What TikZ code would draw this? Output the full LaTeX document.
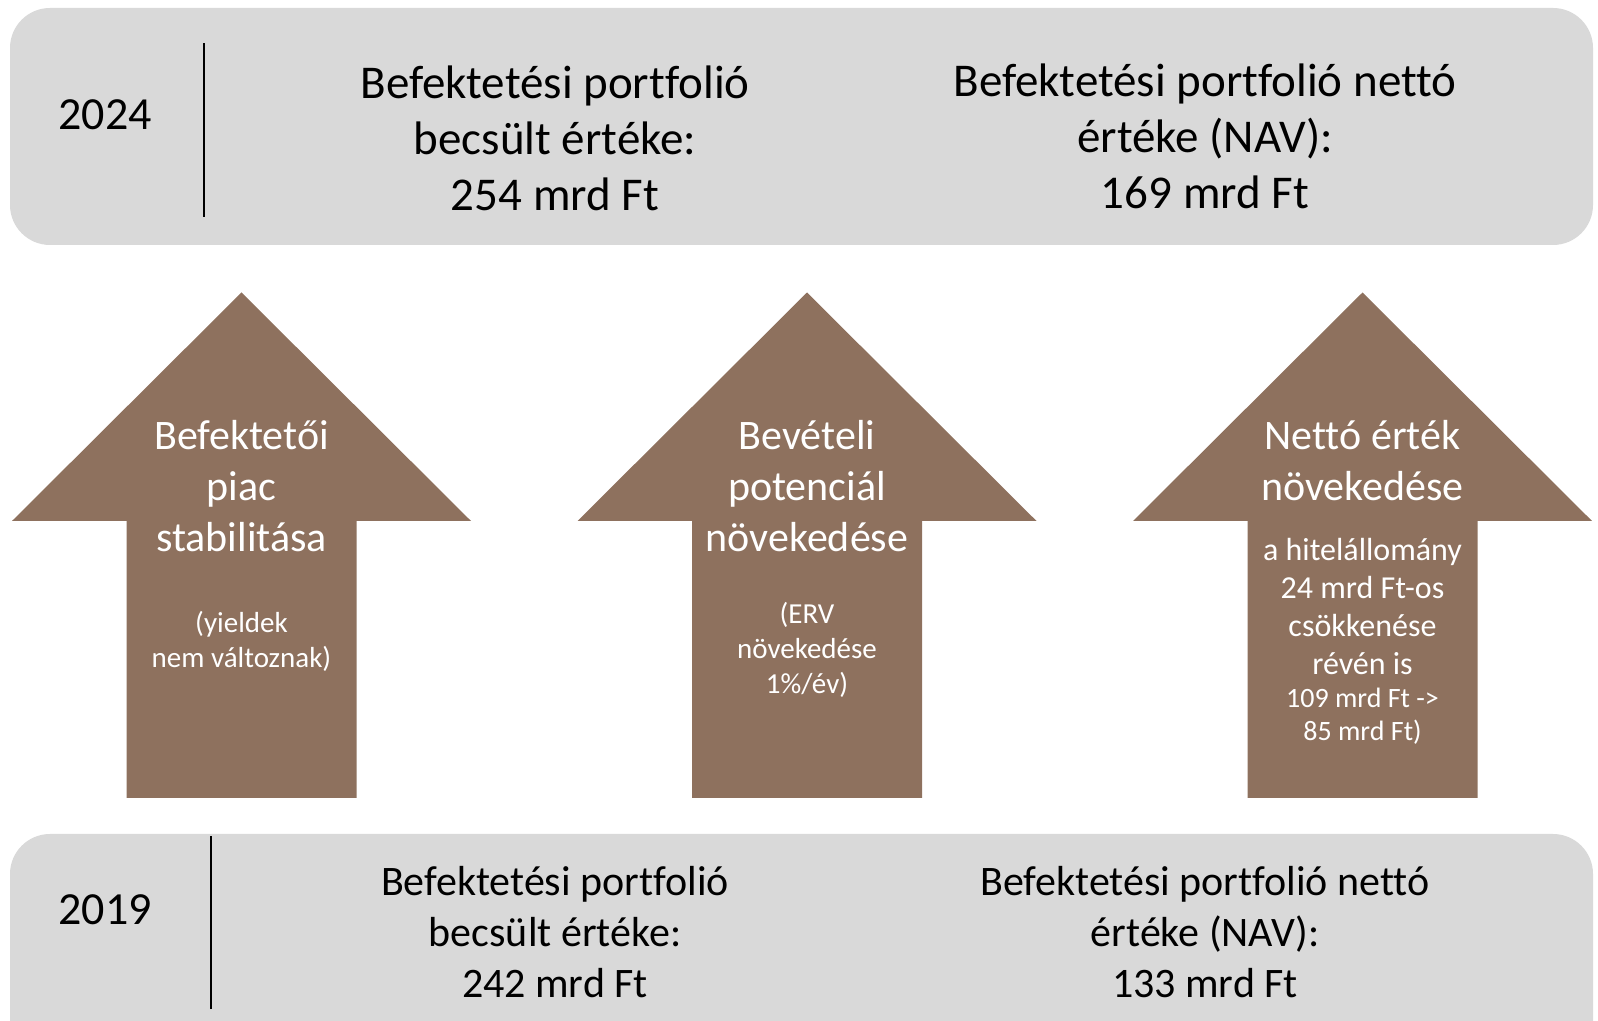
\documentclass[tikz,border=0pt]{standalone}
\usepackage{fontspec}
\setmainfont[Ligatures = {TeX, NoCommon}]{Carlito}
\usepackage{tikz}
\usetikzlibrary{shapes}
\definecolor{dobozszurke}{RGB}{217,217,217}
\definecolor{nyilbarna}{RGB}{142,113,94}
\tikzstyle{doboz} =
        [
                rectangle,
                fill = dobozszurke,
                rounded corners = 40pt,
                minimum width = 1583pt,
                inner sep = 0pt
        ]
\tikzstyle{valaszto} =
        [
                draw,
                line width = 2pt
        ]
\tikzstyle{ev} =
        [
                font = \fontsize{46}{55}\selectfont
        ]
\tikzstyle{felso} =
        [
                align = center,
                font = \fontsize{47}{56}\selectfont
        ]
\tikzstyle{also} =
        [
                align = center,
                font = \fontsize{42}{51}\selectfont
        ]
\tikzstyle{nyil} =
        [
                fill = nyilbarna
        ]
\tikzstyle{nyilcim} =
        [
                align = center,
                text = white,
                font = \fontsize{42}{51}\selectfont
        ]
\tikzstyle{nyilmegj} =
        [
                align = center,
                text = white,
                font = \fontsize{29}{35}\selectfont
        ]
\tikzstyle{hitelszoveg} =
        [
                align = center,
                text = white,
                font = \fontsize{32}{38}\selectfont
        ]
\tikzstyle{kisszoveg} =
        [
                align = center,
                text = white,
                font = \fontsize{28}{33}\selectfont
        ]
% felfele mutato nyil, #1 = kozepe
\newcommand{\felnyil}[1]{%
        \path [nyil] (#1-115,222) -- (#1-115,499) -- (#1-229.5,499) -- (#1,727.5)
                -- (#1+229.5,499) -- (#1+115,499) -- (#1+115,222) -- cycle;}

\begin{document}
\begin{tikzpicture}[x = 1pt, y = 1pt]
        \clip (0,0) rectangle (1598,1020);
        \node [doboz, minimum height = 237pt] (doboz2024) at (801.5,893.5) {};
        \node [doboz, minimum height = 240pt] (doboz2019) at (801.5,66) {};

        \draw [valaszto] (204,803) -- (204,977);
        \draw [valaszto] (211,11) -- (211,184);

        \node [ev] (ev2024) at (105,905) {2024};
        \node [felso] (becsult2024) at (555,882) {Befektetési portfolió\\becsült értéke:\\254 mrd Ft};
        \node [felso] (nav2024) at (1205,884) {Befektetési portfolió nettó\\értéke (NAV):\\169 mrd Ft};

        \node [ev] (ev2019) at (105,110) {2019};
        \node [also] (becsult2019) at (555,88) {Befektetési portfolió\\becsült értéke:\\242 mrd Ft};
        \node [also] (nav2019) at (1205,88) {Befektetési portfolió nettó\\értéke (NAV):\\133 mrd Ft};

        \felnyil{241.5}
        \felnyil{807}
        \felnyil{1362.5}

        \node [nyilcim] (piac) at (241.5,534) {Befektetői\\piac\\stabilitása};
        \node [nyilmegj, below of = piac, node distance = 155pt] (yield) {(yieldek\\nem változnak)};

        \node [nyilcim] (bevetel) at (807,534) {Bevételi\\potenciál\\növekedése};
        \node [nyilmegj, below of = bevetel, node distance = 164pt] (erv) {(ERV\\növekedése\\1\%/év)};

        \node [nyilcim] (netto) at (1362.5,559.5) {Nettó érték\\növekedése};
        \node [hitelszoveg, below of = netto, node distance = 146pt] (hitel) {a hitelállomány\\24 mrd Ft-os\\csökkenése\\révén is};
        \node [kisszoveg, below of = hitel, node distance = 110pt] (hitelszam) {109 mrd Ft ->\\85 mrd Ft)};
\end{tikzpicture}
\end{document}
